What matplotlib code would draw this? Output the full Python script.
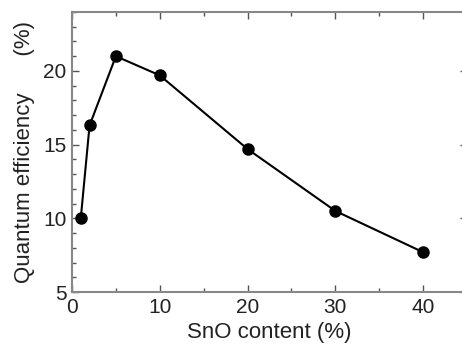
import matplotlib
matplotlib.use('Agg')
import matplotlib.pyplot as plt
from matplotlib.ticker import MultipleLocator

# SnO content (%) vs quantum efficiency (%)
sno_content = [1, 2, 5, 10, 20, 30, 40]
quantum_eff = [10.0, 16.3, 21.0, 19.7, 14.7, 10.5, 7.7]

plt.rcParams['font.family'] = ['Liberation Sans', 'DejaVu Sans']

fig = plt.figure(figsize=(4.62, 3.5), dpi=100)
ax = fig.add_axes([72 / 462, 1 - 292 / 350, 395 / 462, 280 / 350])

ax.plot(sno_content, quantum_eff, color='black', lw=1.5, marker='o', ms=8)

ax.set_xlim(0, 45)
ax.set_ylim(5, 24)
ax.xaxis.set_major_locator(MultipleLocator(10))
ax.xaxis.set_minor_locator(MultipleLocator(5))
ax.yaxis.set_major_locator(MultipleLocator(5))
ax.yaxis.set_minor_locator(MultipleLocator(1))
ax.tick_params(which='both', direction='in', top=True, right=True,
               color='#555555', labelsize=15, labelcolor='#222222')
ax.tick_params(axis='x', pad=4)
ax.tick_params(axis='y', pad=4)
ax.tick_params(which='major', length=5, width=1)
ax.tick_params(which='minor', length=3, width=1)
for sp in ax.spines.values():
    sp.set_color('#888888')
    sp.set_linewidth(1.5)

ax.set_xlabel('SnO content (%)', fontsize=16, labelpad=4, color='#222222')
ax.set_ylabel('Quantum efficiency      (%)', fontsize=16, labelpad=6,
              color='#222222')

fig.savefig('out.png', dpi=100)
